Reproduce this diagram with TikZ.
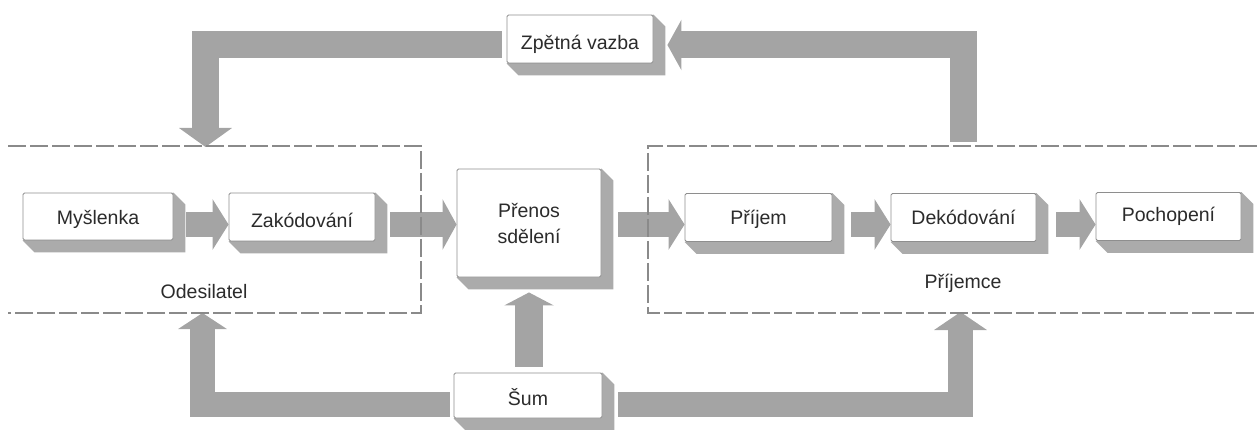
\documentclass[tikz,border=0pt]{standalone}
\usepackage{fontspec}
\setmainfont{Liberation Sans}
\usetikzlibrary{arrows.meta,calc,backgrounds}
\definecolor{arrowgrey}{HTML}{A4A4A4}
\definecolor{shadegrey}{HTML}{ABABAB}
\definecolor{boxline}{HTML}{8E8E8E}
\definecolor{txtgrey}{HTML}{2B2B2B}
\definecolor{dashgrey}{HTML}{8A8A8A}
\newcommand{\lowertext}[2]{\raisebox{-#1}[\height][\depth]{#2}}
\begin{document}
\begin{tikzpicture}[x=1pt,y=-1pt,
  stepbox/.style={draw=boxline, line width=0.9pt, fill=white, rounded corners=1.5pt,
    inner sep=0pt, text=txtgrey, font=\fontsize{19.5}{26}\selectfont, align=center,
    minimum height=48pt},
  fat/.style={draw=arrowgrey, line width=25pt, line join=miter},
  frame/.style={draw=dashgrey, line width=1.1pt, dash pattern=on 18pt off 4pt},
  grouplabel/.style={text=txtgrey, font=\fontsize{19.5}{24}\selectfont}]
\useasboundingbox (0,0) rectangle (1257,430);

% boxes
\node[stepbox, minimum width=150pt, minimum height=47pt] (mys) at (98,216.5) {\lowertext{3pt}{Myšlenka}};
\node[stepbox, minimum width=146pt] (zak) at (302,217) {\lowertext{3pt}{Zakódování}};
\node[stepbox, minimum width=144pt, minimum height=108pt] (pren) at (529,223) {Přenos\\sdělení};
\node[stepbox, minimum width=147pt] (prij) at (758.5,217.5) {\lowertext{2pt}{Příjem}};
\node[stepbox, minimum width=145pt] (dek) at (963.5,217.5) {Dekódování};
\node[stepbox, minimum width=145pt] (poch) at (1168.5,216.5) {Pochopení};
\node[stepbox, minimum width=148pt, minimum height=45pt] (sum) at (528,395.5) {\lowertext{2pt}{Šum}};
\node[stepbox, minimum width=146pt] (zpet) at (580,39) {\lowertext{5pt}{Zpětná vazba}};

% group labels
\node[grouplabel] (odes) at (204,292) {Odesilatel};
\node[grouplabel] (prijemce) at (963,283) {Příjemce};

% helper coordinates
\coordinate (row) at (0,224.5);
\coordinate (fbtop) at (0,45);
\coordinate (bot) at (0,404.5);
\coordinate (fbR) at (963.5,142);
\coordinate (fbL) at (205.5,147);
\coordinate (nsL) at (202.5,313);
\coordinate (nsR) at (960.5,312);

\begin{pgfonlayer}{background}
  % extrusions
  \foreach \n in {mys,zak,pren,prij,dek,poch,sum,zpet}
    \fill[shadegrey] (\n.north east) -- ++(12,12) -- ($(\n.south east)+(12,12)$)
      -- ($(\n.south west)+(12,12)$) -- (\n.south west) -- cycle;

  % main row
  \draw[fat, -{Triangle[length=16pt,width=50pt]}] ($(mys.east|-row)+(13,0)$) -- (zak.west|-row);
  \draw[fat, -{Triangle[length=14pt,width=50pt]}] ($(zak.east|-row)+(15,0)$) -- (pren.west|-row);
  \draw[fat, -{Triangle[length=16pt,width=50pt]}] ($(pren.east|-row)+(17,0)$) -- (prij.west|-row);
  \draw[fat, -{Triangle[length=16pt,width=50pt]}] ($(prij.east|-row)+(19,0)$) -- (dek.west|-row);
  \draw[fat, -{Triangle[length=16pt,width=50pt]}] ($(dek.east|-row)+(20,0)$) -- (poch.west|-row);

  % feedback
  \draw[fat, line width=27pt, -{Triangle[length=14pt,width=50pt]}] (fbR) |- ($(zpet.east|-fbtop)+(14,0)$);
  \draw[fat, line width=27pt, -{Triangle[length=19pt,width=52pt]}] ($(zpet.west|-fbtop)+(-5,0)$) -| (fbL);

  % noise
  \draw[fat, -{Triangle[length=16pt,width=48pt]}] ($(sum.west|-bot)+(-4,0)$) -| (nsL);
  \draw[fat, -{Triangle[length=18pt,width=52pt]}] ($(sum.east|-bot)+(16,0)$) -| (nsR);
  \draw[fat, line width=28pt, -{Triangle[length=13pt,width=49pt]}] ($(sum.north)+(1,-6)$) -- ($(pren.south)+(0,15)$);

  % group frames
  \draw[frame] (8,146) -- (421,146) -- (421,313) -- (8,313);
  \draw[frame] (1257,146) -- (648,146) -- (648,313) -- (1257,313);
\end{pgfonlayer}
\end{tikzpicture}
\end{document}
